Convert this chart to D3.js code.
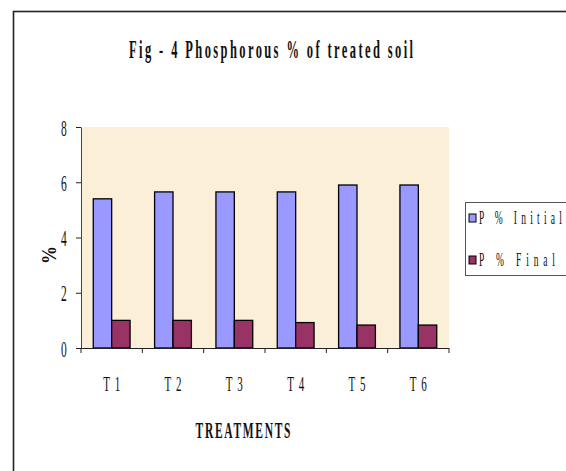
<!DOCTYPE html>
<html>
<head>
<meta charset="utf-8">
<script src="https://cdn.jsdelivr.net/npm/d3@7"></script>
<style>
  html, body { margin: 0; padding: 0; background: #fff; }
  svg { display: block; }
</style>
</head>
<body>
<svg id="chart" width="566" height="471"></svg>
<script>
// Phosphorous % of treated soil, before and after treatment
const categories = ["T 1", "T 2", "T 3", "T 4", "T 5", "T 6"];
const seriesNames = ["P % Initial", "P % Final"];
const initialValues = [5.4, 5.65, 5.65, 5.65, 5.9, 5.9];
const finalValues = [1.0, 1.0, 1.0, 0.92, 0.83, 0.83];
const yTicks = [0, 2, 4, 6, 8];
const colors = ["#9999FF", "#993366"];

const FONT = "'Liberation Serif', 'Times New Roman', serif";
const SX = 0.5; // horizontal glyph squeeze

const svg = d3.select("#chart");

// outer chart frame
svg.append("rect")
  .attr("x", 13.5).attr("y", 11.5)
  .attr("width", 600).attr("height", 600)
  .attr("fill", "#fff")
  .attr("stroke", "#222").attr("stroke-width", 1.6);

// condensed text helper
function ctext(parent, x, y, str, opts) {
  const o = Object.assign({ size: 18, weight: "normal", anchor: "middle", len: null, rotate: 0, sx: SX }, opts);
  const g = parent.append("g")
    .attr("transform", `translate(${x},${y}) rotate(${o.rotate}) scale(${o.sx},1)`);
  const t = g.append("text")
    .attr("x", 0).attr("y", 0)
    .attr("text-anchor", o.anchor)
    .attr("font-family", FONT)
    .attr("font-size", o.size)
    .attr("font-weight", o.weight)
    .attr("fill", "#111")
    .text(str);
  if (o.len) t.attr("textLength", o.len / o.sx).attr("lengthAdjust", "spacing");
  return t;
}

const plot = { left: 81, right: 449, top: 127, bottom: 348 };

const x0 = d3.scaleBand().domain(categories).range([plot.left, plot.right]).padding(0);
const inset = x0.bandwidth() * 0.2;
const x1 = d3.scaleBand().domain(seriesNames).range([inset, x0.bandwidth() - inset]).padding(0);
const y = d3.scaleLinear().domain([0, 8]).range([plot.bottom, plot.top]);

// plot area background
svg.append("rect")
  .attr("x", plot.left).attr("y", plot.top)
  .attr("width", plot.right - plot.left).attr("height", plot.bottom - plot.top)
  .attr("fill", "#FBEFD8");

// bars
const rows = categories.map((c, i) => ({ cat: c, vals: [initialValues[i], finalValues[i]] }));
const groups = svg.append("g").selectAll("g").data(rows).join("g")
  .attr("transform", d => `translate(${x0(d.cat)},0)`);
groups.selectAll("rect")
  .data(d => d.vals.map((v, k) => ({ name: seriesNames[k], v, k })))
  .join("rect")
  .attr("x", d => x1(d.name))
  .attr("y", d => y(d.v))
  .attr("width", x1.bandwidth())
  .attr("height", d => y(0) - y(d.v))
  .attr("fill", d => colors[d.k])
  .attr("stroke", "#000").attr("stroke-width", 1.3);

// y axis
const yAxis = svg.append("g")
  .attr("transform", `translate(${plot.left},0)`)
  .call(d3.axisLeft(y).tickValues(yTicks).tickSize(5).tickSizeOuter(0));
yAxis.select(".domain").attr("stroke", "#444");
yAxis.selectAll(".tick line").attr("stroke", "#222");
yAxis.selectAll(".tick text")
  .attr("x", 0).attr("dy", null)
  .attr("transform", `translate(-17,8) scale(${SX},1)`)
  .attr("text-anchor", "middle")
  .attr("font-family", FONT).attr("font-size", 23).attr("fill", "#111");

// x axis
const xAxis = svg.append("g")
  .attr("transform", `translate(0,${plot.bottom})`)
  .call(d3.axisBottom(x0).tickSize(0).tickSizeOuter(0).tickFormat(""));
xAxis.select(".domain").attr("stroke", "#222").attr("d", `M${plot.left - 5},0.5H${plot.right}`);
xAxis.selectAll(".tick").remove();
const bounds = categories.map(c => x0(c)).concat([plot.right]);
xAxis.selectAll("line.sep").data(bounds).join("line")
  .attr("class", "sep")
  .attr("x1", d => d).attr("x2", d => d)
  .attr("y1", 0).attr("y2", 5)
  .attr("stroke", "#222");

categories.forEach(c => {
  ctext(svg, x0(c) + x0.bandwidth() / 2, 391, c, { size: 22, len: 17 });
});

// titles
ctext(svg, 271, 58, "Fig - 4 Phosphorous %  of treated soil", { size: 25, weight: "bold", len: 284 });
ctext(svg, 243, 438, "TREATMENTS", { size: 23, weight: "bold", len: 95 });
ctext(svg, 56, 255, "%", { size: 20, weight: "bold", rotate: -90, sx: 0.9 });

// legend
const lg = svg.append("g");
lg.append("rect")
  .attr("x", 465.5).attr("y", 202.5)
  .attr("width", 200).attr("height", 73)
  .attr("fill", "#fff").attr("stroke", "#555").attr("stroke-width", 1);
const legendY = [218, 260];
seriesNames.forEach((n, k) => {
  lg.append("rect")
    .attr("x", 469).attr("y", legendY[k] - 4)
    .attr("width", 7).attr("height", 8)
    .attr("fill", colors[k]).attr("stroke", "#000").attr("stroke-width", 1);
  ctext(lg, 479, legendY[k] + 6, n, { size: 19, anchor: "start", len: k === 0 ? 83 : 76 });
});
</script>
</body>
</html>
